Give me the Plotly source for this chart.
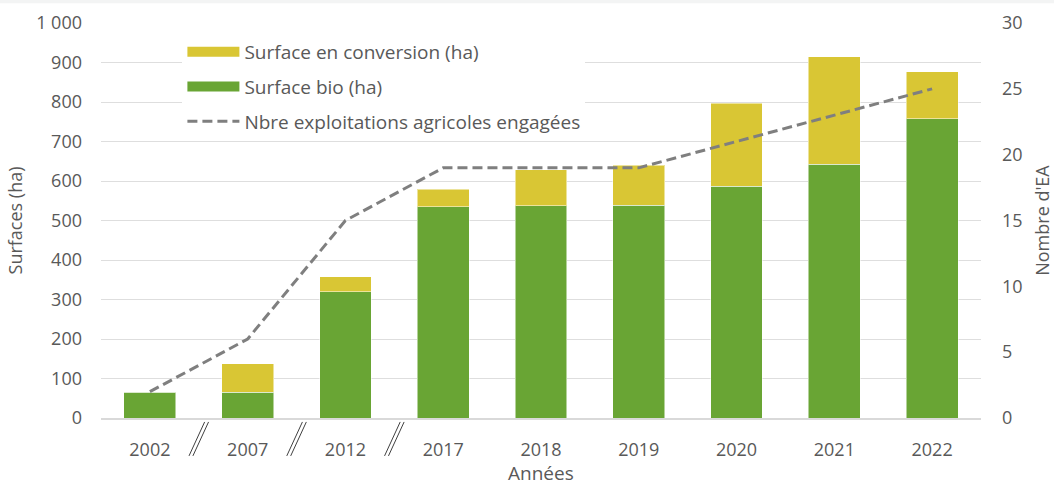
import plotly.graph_objects as go

annees = ["2002", "2007", "2012", "2017", "2018", "2019", "2020", "2021", "2022"]
surface_bio = [65, 65, 320, 535, 537, 539, 587, 643, 757]
surface_conversion = [0, 72, 38, 44, 91, 101, 210, 271, 119]
nb_exploitations = [2, 6, 15, 19, 19, 19, 21, 23, 25]

y1_ticks = [0, 100, 200, 300, 400, 500, 600, 700, 800, 900, 1000]
y1_labels = ["0", "100", "200", "300", "400", "500", "600", "700", "800", "900", "1 000"]
y2_ticks = [0, 5, 10, 15, 20, 25, 30]

GREEN = "#69a534"
YELLOW = "#d9c634"
GRAY_LINE = "#7f7f7f"
TXT = "#595959"
FONT = "Open Sans"

fig = go.Figure()
fig.add_trace(go.Bar(x=annees, y=surface_bio, marker=dict(color=GREEN, line=dict(color="rgba(255,255,255,0.5)", width=1)),
                     showlegend=False, yaxis="y"))
fig.add_trace(go.Bar(x=annees, y=surface_conversion, marker=dict(color=YELLOW, line=dict(color="rgba(255,255,255,0.5)", width=1)),
                     showlegend=False, yaxis="y"))
fig.add_trace(go.Scatter(x=annees, y=nb_exploitations, mode="lines", yaxis="y2",
                         line=dict(color=GRAY_LINE, width=3, dash="10px,5px"), showlegend=False))

# legend entries
fig.add_trace(go.Scatter(x=[None], y=[None], mode="lines", name="Surface en conversion (ha)",
                         line=dict(color=YELLOW, width=12), legendrank=1, legendgroup="a"))
fig.add_trace(go.Scatter(x=[None], y=[None], mode="lines", name="Surface bio (ha)",
                         line=dict(color=GREEN, width=12), legendrank=2, legendgroup="b"))
fig.add_trace(go.Scatter(x=[None], y=[None], mode="lines", name="Nbre exploitations agricoles engagées",
                         line=dict(color=GRAY_LINE, width=3, dash="10px,5px"), legendrank=3, legendgroup="c"))

# axis break marks between early years
shapes = []
for i in range(3):
    xc = i + 0.5
    for off in (-0.02, 0.02):
        shapes.append(dict(type="line", xref="x", yref="paper",
                           x0=xc + off - 0.08, x1=xc + off + 0.08, y0=-0.096, y1=-0.01,
                           line=dict(color="#404040", width=1)))
# top thin strip
shapes.append(dict(type="rect", xref="paper", yref="paper", x0=-0.2, x1=1.2, y0=1.05, y1=1.07,
                   fillcolor="#f3f4f4", line=dict(width=0), layer="below"))

fig.update_layout(
    width=1054, height=488,
    margin=dict(l=101, r=73, t=23, b=70, autoexpand=False),
    paper_bgcolor="white", plot_bgcolor="white",
    barmode="stack", bargap=0.47,
    font=dict(family=FONT, size=18, color=TXT),
    xaxis=dict(showline=True, linecolor="#d9d9d9", linewidth=2,
               ticks="", showgrid=False, tickfont=dict(size=18), ticklabelstandoff=14, automargin=False),
    yaxis=dict(title=dict(text="Surfaces (ha)", font=dict(size=18), standoff=8), range=[0, 1000], tickvals=y1_ticks, ticktext=y1_labels,
               showgrid=True, gridcolor="#dedede", gridwidth=1, zeroline=False, ticklabelstandoff=18, automargin=False,
               tickfont=dict(size=18)),
    yaxis2=dict(title=dict(text="Nombre d'EA", font=dict(size=18), standoff=14), range=[0, 30], tickvals=y2_ticks, overlaying="y", side="right",
                showgrid=False, zeroline=False, ticklabelstandoff=20, automargin=False, tickfont=dict(size=18)),
    legend=dict(x=0.0925, y=0.975, xanchor="left", yanchor="top", bgcolor="white", traceorder="grouped",
                itemwidth=52, tracegroupgap=7, font=dict(size=19, color=TXT)),
    shapes=shapes,
    annotations=[dict(text="Années", xref="paper", yref="paper", x=0.5, y=-0.1747, xanchor="center", yanchor="bottom",
                      showarrow=False, font=dict(size=19, color=TXT), borderpad=0)],
)

fig.write_html("out.html", post_script="document.body.style.margin='0px';",
               config={"displayModeBar": False})
